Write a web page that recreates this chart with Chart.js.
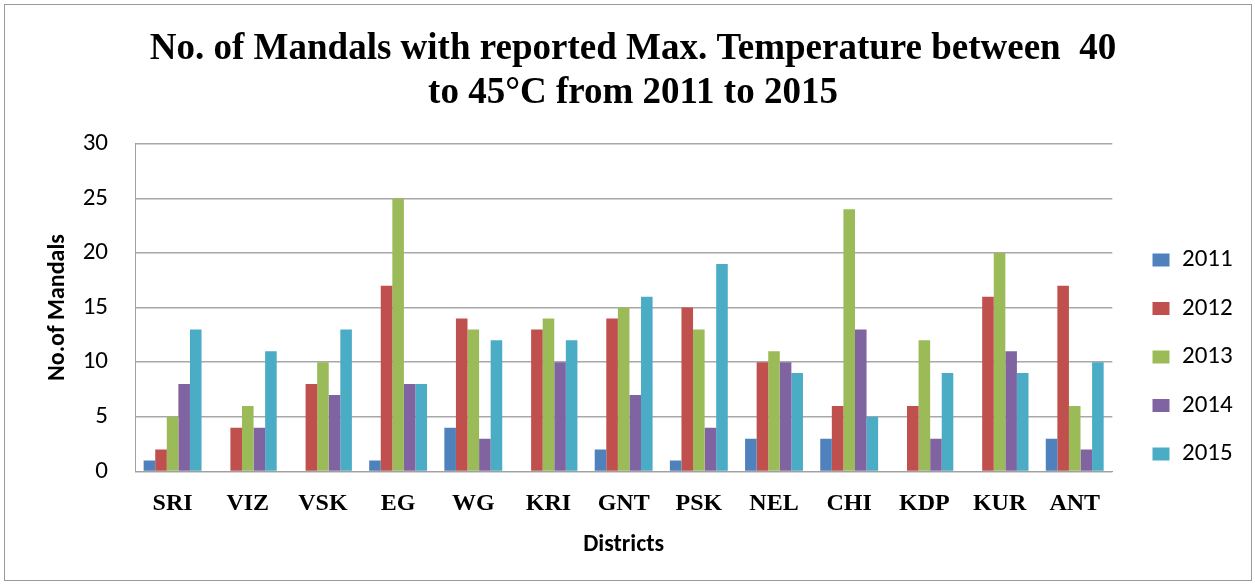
<!DOCTYPE html>
<html>
<head>
<meta charset="utf-8">
<script src="https://cdn.jsdelivr.net/npm/chart.js@4/dist/chart.umd.min.js"></script>
<style>
  html, body { margin: 0; padding: 0; background: #fff; }
  #wrap { position: relative; width: 1255px; height: 586px; }
  #frame { position: absolute; left: 4px; top: 4px; right: 3px; bottom: 5px; border: 1px solid #9a9a9a; pointer-events: none; }
</style>
</head>
<body>
<div id="wrap">
  <canvas id="chart" width="1255" height="586"></canvas>
  <div id="frame"></div>
</div>
<script>
  // districts on the x axis
  const districts = ['SRI', 'VIZ', 'VSK', 'EG', 'WG', 'KRI', 'GNT', 'PSK', 'NEL', 'CHI', 'KDP', 'KUR', 'ANT'];

  // number of mandals per year
  const y2011 = [1, 0, 0, 1, 4, 0, 2, 1, 3, 3, 0, 0, 3];
  const y2012 = [2, 4, 8, 17, 14, 13, 14, 15, 10, 6, 6, 16, 17];
  const y2013 = [5, 6, 10, 25, 13, 14, 15, 13, 11, 24, 12, 20, 6];
  const y2014 = [8, 4, 7, 8, 3, 10, 7, 4, 10, 13, 3, 11, 2];
  const y2015 = [13, 11, 13, 8, 12, 12, 16, 19, 9, 5, 9, 9, 10];

  const yTicks = [0, 5, 10, 15, 20, 25, 30];

  const years = ['2011', '2012', '2013', '2014', '2015'];
  const seriesValues = [y2011, y2012, y2013, y2014, y2015];
  const COLORS = ['#4F81BD', '#C0504D', '#9BBB59', '#8064A2', '#4BACC6'];

  const datasets = years.map((yr, i) => ({
    label: yr,
    data: seriesValues[i],
    backgroundColor: COLORS[i],
    borderWidth: 0,
    categoryPercentage: 0.77,
    barPercentage: 1.0
  }));

  const sans = "Carlito, 'Open Sans', 'Liberation Sans', sans-serif";
  const serif = "'Liberation Serif', 'DejaVu Serif', serif";

  // nudge the legend block to where the original sits (right of plot, a bit low)
  const legendNudge = {
    id: 'legendNudge',
    afterLayout(chart) {
      const lg = chart.legend;
      if (!lg) return;
      const dx = 1129 - lg.left;
      const dy = 64;
      lg.left += dx; lg.right += dx;
      lg.top += dy; lg.bottom += dy;
    }
  };

  new Chart(document.getElementById('chart'), {
    type: 'bar',
    data: { labels: districts, datasets: datasets },
    plugins: [legendNudge],
    options: {
      responsive: false,
      animation: false,
      layout: { padding: { left: 40, right: 29, top: 27, bottom: 27 } },
      plugins: {
        title: {
          display: true,
          text: ['No. of Mandals with reported Max. Temperature between  40', 'to 45\u00B0C from 2011 to 2015'],
          font: { size: 37, weight: 'bold', family: serif },
          color: '#000',
          lineHeight: 1.21,
          padding: { top: 0, bottom: 28 }
        },
        legend: {
          position: 'right',
          labels: {
            boxWidth: 17,
            boxHeight: 13,
            padding: 23.5,
            color: '#000',
            font: { size: 25, family: sans }
          }
        },
        tooltip: { enabled: false }
      },
      scales: {
        x: {
          grid: { display: false },
          border: { color: '#a0a0a0' },
          ticks: {
            color: '#000',
            font: { size: 24, weight: 'bold', family: serif },
            padding: 10
          },
          title: {
            display: true,
            text: 'Districts',
            color: '#000',
            font: { size: 24, weight: 'bold', family: sans },
            padding: { top: 2, bottom: 0 }
          }
        },
        y: {
          min: 0,
          max: 30,
          afterBuildTicks: axis => { axis.ticks = yTicks.map(v => ({ value: v })); },
          afterFit: axis => { axis.width = 95; },
          grid: { color: '#a8a8a8', lineWidth: 1.5, drawTicks: false },
          border: { color: '#a0a0a0', display: true },
          ticks: {
            color: '#000',
            font: { size: 25, family: sans },
            padding: 27
          },
          title: {
            display: true,
            text: 'No.of Mandals',
            color: '#000',
            font: { size: 24, weight: 'bold', family: sans },
            padding: { top: 4, bottom: 0 }
          }
        }
      }
    }
  });
</script>
</body>
</html>
